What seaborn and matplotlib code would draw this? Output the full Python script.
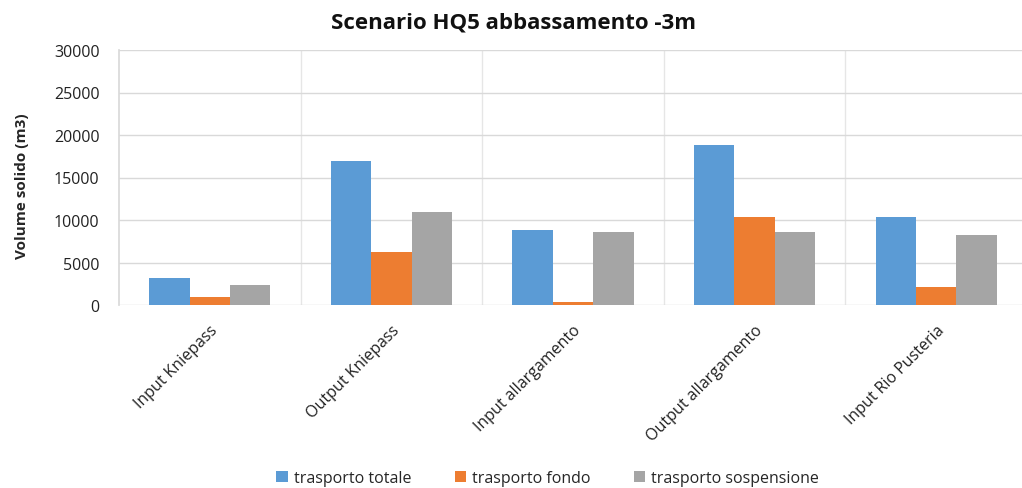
import matplotlib
matplotlib.use("Agg")
import matplotlib.pyplot as plt
import seaborn as sns
import pandas as pd

categories = ["Input Kniepass", "Output Kniepass", "Input allargamento",
              "Output allargamento", "Input Rio Pusteria"]
trasporto_totale = [3200, 17000, 8850, 18850, 10330]
trasporto_fondo = [950, 6250, 300, 10330, 2150]
trasporto_sospensione = [2300, 10900, 8600, 8600, 8180]
series_names = ["trasporto totale", "trasporto fondo", "trasporto sospensione"]
y_ticks = [0, 5000, 10000, 15000, 20000, 25000, 30000]

df = pd.DataFrame({
    "categoria": categories * 3,
    "serie": [series_names[0]] * 5 + [series_names[1]] * 5 + [series_names[2]] * 5,
    "volume": trasporto_totale + trasporto_fondo + trasporto_sospensione,
})

sns.set_theme(style="white")
plt.rcParams["font.family"] = ["Open Sans", "DejaVu Sans"]

palette = {"trasporto totale": "#5B9BD5",
           "trasporto fondo": "#ED7D31",
           "trasporto sospensione": "#A5A5A5"}

fig = plt.figure(figsize=(10.22, 4.89), dpi=100)
ax = fig.add_axes([119 / 1022, 1 - 306 / 489, (1027 - 119) / 1022, (306 - 51) / 489])

sns.barplot(data=df, x="categoria", y="volume", hue="serie", palette=palette,
            width=0.667, gap=0, ax=ax, saturation=1, linewidth=0, zorder=3)

ax.set_ylim(0, 30000)
ax.set_xlim(-0.5, 4.5)
ax.set_yticks(y_ticks)
ax.set_yticklabels([str(v) for v in y_ticks], fontsize=11.5, color="#222222")
ax.yaxis.grid(True, color="#D9D9D9", linewidth=1, zorder=0)
ax.set_xticks([x - 0.5 for x in range(1, 5)], minor=True)
ax.xaxis.grid(True, which="minor", color="#E6E6E6", linewidth=1, zorder=0)
ax.tick_params(axis="both", which="both", length=0)
ax.tick_params(axis="y", pad=14)
ax.set_xticks(range(len(categories)))
ax.set_xticklabels(categories, rotation=45, ha="right", rotation_mode="anchor",
                   fontsize=11.5, color="#222222")
ax.tick_params(axis="x", pad=12)

for side in ["top", "right", "bottom"]:
    ax.spines[side].set_visible(False)
ax.spines["left"].set_color("#D9D9D9")

ax.set_xlabel("")
ax.set_ylabel("Volume solido (m3)", fontsize=11, fontweight="bold")
ax.yaxis.set_label_coords(-0.099, 0.47)

fig.suptitle("Scenario HQ5 abbassamento -3m", fontsize=16, fontweight="bold",
             x=0.502, y=0.975, color="#111111")

handles, labels = ax.get_legend_handles_labels()
ax.get_legend().remove()
fig.legend(handles, labels, loc="center", bbox_to_anchor=(0.536, 0.02), ncol=3,
           frameon=False, fontsize=11.5, handlelength=0.7, handleheight=0.7,
           columnspacing=2.7, handletextpad=0.4)

fig.savefig("out.png", dpi=100, facecolor="white")
